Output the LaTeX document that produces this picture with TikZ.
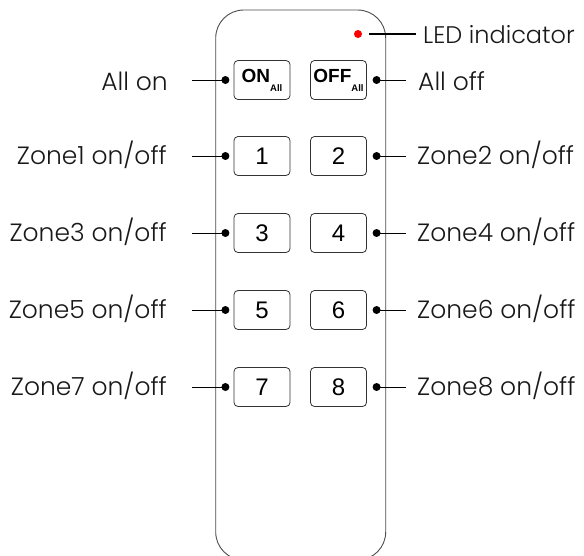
\documentclass[tikz,border=0pt]{standalone}
\usepackage{fontspec}
\setmainfont{Poppins Light}
\newfontfamily\btnfont{Liberation Sans}
\usetikzlibrary{positioning}

\begin{document}
\begin{tikzpicture}[x=1pt,y=-1pt,
    btn/.style={draw=black!80, line width=0.8pt, rounded corners=4pt,
      minimum width=56pt, minimum height=39pt, inner sep=0pt,
      font=\btnfont\fontsize{24}{24}\selectfont},
    lbl/.style={inner sep=0pt, text=black!90, font=\fontsize{25}{25}\selectfont},
    pin/.style={circle, fill=black, inner sep=0pt, minimum size=8pt}]
  \useasboundingbox (0,0) rectangle (584,555);
  \begin{scope}
    \clip (0,0) rectangle (584,555);
    \draw[black!70, line width=0.9pt, rounded corners=28pt] (215.7,10) rectangle (385.7,560);
  \end{scope}

  % LED
  \node[circle, fill=red, inner sep=0pt, minimum size=8pt] (led) at (358,34) {};
  \node[lbl, anchor=base west, font=\fontsize{24}{24}\selectfont] (ledtxt) at (423,43.3) {LED indicator};
  \draw[line width=1.2pt] ([xshift=11pt]led.center) -- ([xshift=-7pt]ledtxt.west |- led);

  % all on / all off
  \node[btn] (on) at (262,80) {\raisebox{-2.7pt}[0pt][0pt]{\bfseries\fontsize{19}{19}\selectfont ON}\raisebox{-11.7pt}[0pt][0pt]{\bfseries\fontsize{9.5}{9.5}\selectfont All}};
  \node[btn] (off) at (338.5,80) {\raisebox{-2.7pt}[0pt][0pt]{\bfseries\fontsize{19}{19}\selectfont OFF}\raisebox{-11.7pt}[0pt][0pt]{\bfseries\fontsize{9.5}{9.5}\selectfont All}};
  \node[pin, left=4pt of on] (pon) {};
  \node[pin, right=5.5pt of off] (poff) {};
  \node[lbl, anchor=base east] (ton) at (168,90) {All on};
  \node[lbl, anchor=base west] (toff) at (418,90) {All off};
  \draw (pon.center) -- ([xshift=24pt]ton.east |- pon);
  \draw (poff.center) -- ([xshift=-12pt]toff.west |- poff);

  % zones
  \foreach \l/\r/\y in {1/2/156,3/4/233,5/6/310,7/8/387}{
    \node[btn] (b\l) at (262,\y) {\l};
    \node[btn] (b\r) at (338.5,\y) {\r};
    \node[pin, left=4pt of b\l] (p\l) {};
    \node[pin, right=5.5pt of b\r] (p\r) {};
    \node[lbl, anchor=base east] (z\l) at (167,\y+8.3) {Zone\l\ on/off};
    \node[lbl, anchor=base west] (z\r) at (417,\y+8.3) {Zone\r\ on/off};
    \draw (p\l.center) -- ([xshift=25pt]z\l.east |- p\l);
    \draw (p\r.center) -- ([xshift=-11pt]z\r.west |- p\r);
  }
\end{tikzpicture}
\end{document}
